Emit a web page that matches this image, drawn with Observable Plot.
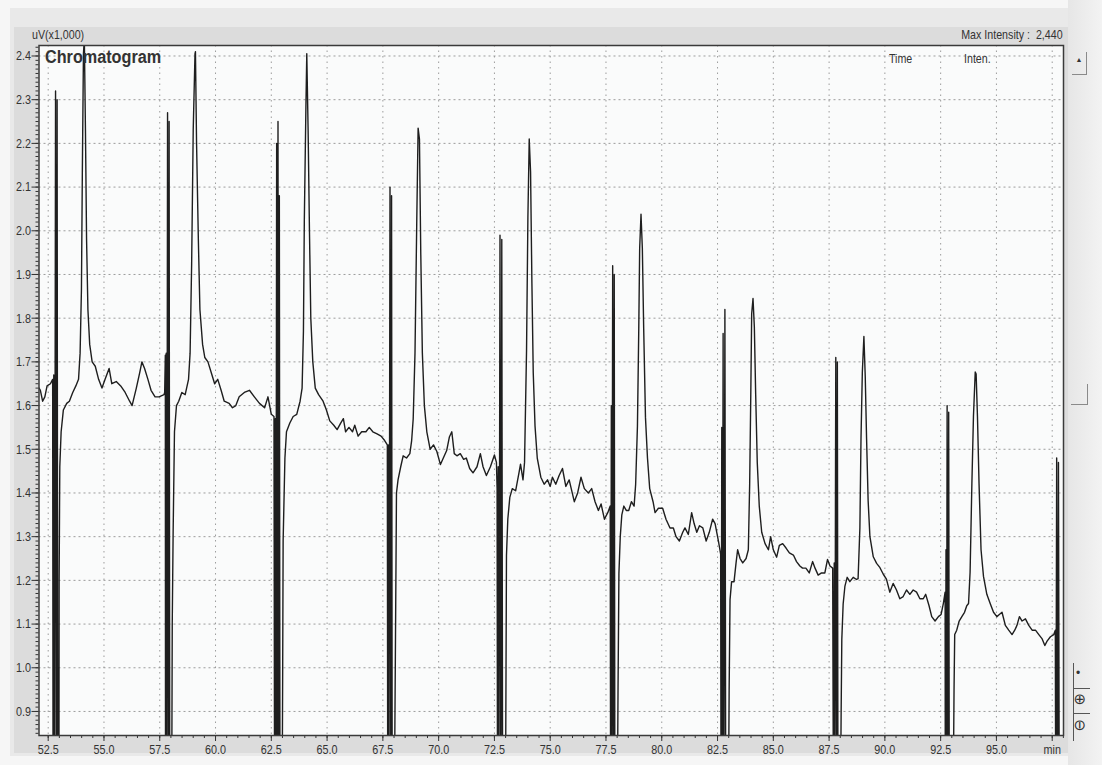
<!DOCTYPE html>
<html><head><meta charset="utf-8">
<script src="https://cdn.jsdelivr.net/npm/d3@7"></script>
<script src="https://cdn.jsdelivr.net/npm/@observablehq/plot@0.6"></script>
<style>
body{margin:0;background:#f6f6f6;font-family:"Liberation Sans",Arial,sans-serif;}
#wrap{position:relative;width:1102px;height:765px;overflow:hidden;}
.abs{position:absolute;}
.lbl{position:absolute;color:#333;font-size:12px;white-space:nowrap;line-height:1;}
.cond{transform:scaleX(0.82);transform-origin:left top;}
.condr{transform:scaleX(0.82);transform-origin:right top;}
</style></head><body><div id="wrap">
<div class="abs" style="left:10px;top:8px;width:1060px;height:748px;background:#e9e9e9"></div>
<div class="abs" style="left:14px;top:27px;width:1054px;height:726px;background:#dcdcdc"></div>
<div class="abs" style="left:1068px;top:0;width:34px;height:765px;background:linear-gradient(90deg,#e6e6e6,#f3f3f3)"></div>
<div class="abs" style="left:1072px;top:52px;width:14px;height:22px;border-right:1px solid #8a8a8a;border-bottom:1px solid #8a8a8a;font-size:7px;color:#333;text-align:center;line-height:16px">&#9650;</div>
<div class="abs" style="left:1071px;top:384px;width:16px;height:20px;border-right:1px solid #8a8a8a;border-bottom:1px solid #8a8a8a"></div>
<div class="abs" style="left:1073px;top:663px;width:17px;height:78px;border-left:1px solid #555;"></div>
<div class="lbl" style="left:1076px;top:667px;font-size:12px">&#8226;</div>
<div class="abs" style="left:1073px;top:688px;width:17px;height:1px;background:#555"></div>
<div class="lbl" style="left:1074px;top:692px;font-size:15px;transform:rotate(90deg)">&#8853;</div>
<div class="abs" style="left:1073px;top:713px;width:17px;height:1px;background:#555"></div>
<div class="lbl" style="left:1074px;top:718px;font-size:15px;transform:rotate(90deg)">&#8854;</div>
<div id="chart" class="abs" style="left:0;top:0"></div>
<div class="lbl cond" style="left:32px;top:28px;font-size:13px">uV(x1,000)</div>
<div class="lbl condr" style="right:39px;top:28px;font-size:13px">Max Intensity :&nbsp; 2,440</div>
<div class="lbl" style="left:45px;top:48px;font-size:18px;font-weight:bold;transform:scaleX(0.9);transform-origin:left top">Chromatogram</div>
<div class="lbl cond" style="left:889px;top:52px;font-size:13px">Time</div>
<div class="lbl cond" style="left:964px;top:52px;font-size:13px">Inten.</div>
</div>
<script>
// Tick values and labels
const xTicks = [52.5,55,57.5,60,62.5,65,67.5,70,72.5,75,77.5,80,82.5,85,87.5,90,92.5,95,97.5];
const xTickLabels = ["52.5","55.0","57.5","60.0","62.5","65.0","67.5","70.0","72.5","75.0","77.5","80.0","82.5","85.0","87.5","90.0","92.5","95.0","min"];
const yTicks = [0.9,1.0,1.1,1.2,1.3,1.4,1.5,1.6,1.7,1.8,1.9,2.0,2.1,2.2,2.3,2.4];
const yTickLabels = ["0.9","1.0","1.1","1.2","1.3","1.4","1.5","1.6","1.7","1.8","1.9","2.0","2.1","2.2","2.3","2.4"];

// Trace: [time (min), intensity (uV x1,000)]; 0.6 = off-scale below the plot
const cycle1 = [[52.09,1.64],[52.15,1.635],[52.25,1.61],[52.35,1.62],[52.45,1.645],[52.6,1.65],[52.7,1.66],
 [52.72,0.6],[52.75,1.67],[52.78,0.6],[52.83,2.32],[52.87,0.6],[52.9,2.30],[52.93,0.6],[52.98,0.6],
 [52.99,1.2],[53.02,1.46],[53.08,1.54],[53.18,1.59],[53.33,1.605],[53.45,1.61],[53.6,1.63],[53.74,1.645],[53.86,1.66],
 [53.93,1.72],[53.99,1.865],[54.03,2.13],[54.08,2.405],[54.12,2.44],[54.17,2.23],[54.22,1.98],[54.28,1.82],[54.36,1.74],
 [54.47,1.70],[54.61,1.69],[54.76,1.66],[54.91,1.64],[55.05,1.66],[55.23,1.685],[55.35,1.65],[55.55,1.655],[55.75,1.645],
 [55.95,1.63],[56.15,1.61],[56.26,1.60],[56.45,1.64],[56.6,1.675],[56.7,1.70],[56.82,1.685],[56.97,1.66],[57.11,1.635],
 [57.29,1.62],[57.47,1.62],[57.69,1.625]];
const cycle2 = [[57.72,1.63],[57.75,1.715],[57.76,0.6],[57.79,1.72],[57.81,0.6],[57.85,2.27],[57.89,0.6],[57.92,2.25],[57.95,0.6],[58.03,0.6],
 [58.06,1.1],[58.1,1.31],[58.16,1.54],[58.25,1.60],[58.35,1.61],[58.49,1.63],[58.64,1.625],[58.79,1.66],[58.86,1.72],
 [58.93,1.925],[59.0,2.23],[59.08,2.405],[59.1,2.41],[59.15,2.2],[59.23,1.98],[59.3,1.82],[59.42,1.74],[59.52,1.71],
 [59.66,1.70],[59.81,1.675],[59.96,1.65],[60.1,1.66],[60.25,1.635],[60.39,1.61],[60.61,1.605],[60.76,1.595],[60.91,1.60],
 [61.06,1.62],[61.29,1.63],[61.52,1.635],[61.74,1.62],[61.97,1.605],[62.2,1.595],[62.35,1.62],[62.5,1.58],[62.62,1.575]];
const cycle3 = [[62.65,0.6],[62.68,1.57],[62.7,0.6],[62.74,2.20],[62.77,0.6],[62.8,2.25],[62.83,0.6],[62.86,2.08],[62.89,0.6],[62.98,0.6],
 [63.01,1.0],[63.03,1.29],[63.11,1.48],[63.18,1.54],[63.33,1.56],[63.48,1.575],[63.64,1.58],[63.79,1.61],[63.88,1.64],
 [63.94,1.77],[63.98,2.025],[64.05,2.28],[64.09,2.405],[64.15,2.23],[64.21,2.0],[64.27,1.80],[64.36,1.70],[64.47,1.64],
 [64.62,1.625],[64.82,1.61],[64.97,1.59],[65.12,1.565],[65.3,1.555],[65.45,1.545],[65.61,1.56],[65.73,1.57],[65.83,1.54],
 [65.98,1.55],[66.14,1.54],[66.24,1.555],[66.39,1.53],[66.55,1.54],[66.74,1.54],[66.89,1.55],[67.05,1.54],[67.24,1.535],
 [67.42,1.53],[67.58,1.52],[67.7,1.51]];
const cycle4 = [[67.72,0.6],[67.75,1.51],[67.77,0.6],[67.82,2.10],[67.86,0.6],[67.89,2.08],[67.92,0.6],[67.99,0.6],
 [68.03,0.8],[68.06,1.025],[68.11,1.40],[68.18,1.43],[68.3,1.46],[68.41,1.485],[68.56,1.48],[68.71,1.49],[68.79,1.52],
 [68.86,1.57],[68.94,1.72],[69.02,2.025],[69.08,2.235],[69.14,2.21],[69.2,1.945],[69.27,1.72],[69.36,1.60],[69.47,1.54],
 [69.62,1.50],[69.77,1.51],[69.92,1.495],[70.08,1.465],[70.21,1.48],[70.36,1.497],[70.48,1.528],[70.59,1.54],[70.7,1.49],
 [70.82,1.485],[70.97,1.49],[71.12,1.477],[71.24,1.48],[71.39,1.456],[71.54,1.446],[71.72,1.46],[71.87,1.49],[71.99,1.46],
 [72.14,1.44],[72.32,1.46],[72.5,1.487],[72.59,1.47]];
const cycle5 = [[72.62,1.41],[72.64,0.6],[72.67,1.46],[72.7,0.6],[72.75,1.99],[72.79,0.6],[72.83,1.98],[72.87,0.6],[72.99,0.6],
 [73.02,1.0],[73.04,1.257],[73.1,1.34],[73.19,1.39],[73.3,1.41],[73.45,1.405],[73.6,1.446],[73.67,1.466],[73.78,1.43],
 [73.85,1.47],[73.94,1.727],[74.0,2.03],[74.06,2.21],[74.12,2.135],[74.18,1.88],[74.24,1.675],[74.32,1.553],[74.42,1.48],
 [74.58,1.436],[74.73,1.42],[74.88,1.43],[75.0,1.415],[75.1,1.436],[75.25,1.42],[75.4,1.44],[75.55,1.456],[75.7,1.415],
 [75.85,1.43],[76.08,1.38],[76.23,1.40],[76.38,1.436],[76.53,1.41],[76.71,1.40],[76.86,1.41],[77.01,1.38],[77.16,1.36],
 [77.28,1.375],[77.43,1.34],[77.58,1.355],[77.69,1.37]];
const cycle6 = [[77.71,0.6],[77.74,1.60],[77.76,0.6],[77.8,1.92],[77.84,0.6],[77.87,1.90],[77.9,0.6],[78.0,0.6],
 [78.04,0.95],[78.08,1.216],[78.14,1.30],[78.21,1.35],[78.3,1.37],[78.41,1.36],[78.52,1.36],[78.64,1.38],[78.76,1.37],
 [78.83,1.42],[78.91,1.553],[78.97,1.777],[79.01,1.96],[79.07,2.038],[79.13,1.96],[79.19,1.777],[79.27,1.573],[79.36,1.48],
 [79.46,1.41],[79.61,1.38],[79.7,1.355],[79.85,1.365],[80.04,1.365],[80.19,1.34],[80.37,1.32],[80.52,1.32],[80.64,1.30],
 [80.79,1.29],[80.94,1.31],[81.04,1.32],[81.19,1.305],[81.34,1.355],[81.45,1.33],[81.57,1.31],[81.69,1.325],[81.84,1.32],
 [81.99,1.29],[82.13,1.31],[82.28,1.34],[82.39,1.33],[82.54,1.29],[82.64,1.26]];
const cycle7 = [[82.66,0.6],[82.69,1.55],[82.71,0.6],[82.75,1.765],[82.78,0.6],[82.83,1.82],[82.87,0.6],[82.98,0.6],
 [83.02,0.95],[83.06,1.156],[83.13,1.197],[83.24,1.197],[83.33,1.24],[83.4,1.27],[83.51,1.25],[83.63,1.24],[83.78,1.25],
 [83.88,1.27],[83.94,1.42],[83.99,1.625],[84.03,1.81],[84.09,1.845],[84.15,1.78],[84.21,1.625],[84.28,1.47],[84.37,1.37],
 [84.48,1.31],[84.63,1.284],[84.78,1.27],[84.88,1.30],[85.0,1.27],[85.15,1.253],[85.27,1.28],[85.42,1.284],[85.57,1.274],
 [85.72,1.263],[85.9,1.258],[86.04,1.243],[86.19,1.233],[86.31,1.228],[86.46,1.228],[86.61,1.217],[86.76,1.243],
 [86.87,1.228],[87.01,1.212],[87.16,1.217],[87.31,1.217],[87.43,1.248],[87.54,1.233],[87.66,1.228]];
const cycle8 = [[87.7,0.6],[87.73,1.24],[87.75,0.6],[87.8,1.71],[87.84,0.6],[87.87,1.70],[87.9,0.6],[88.0,0.6],
 [88.04,0.9],[88.07,1.065],[88.13,1.146],[88.21,1.187],[88.31,1.207],[88.43,1.197],[88.58,1.207],[88.73,1.202],[88.8,1.204],
 [88.88,1.32],[88.93,1.524],[88.99,1.677],[89.06,1.758],[89.12,1.667],[89.18,1.524],[89.25,1.382],[89.33,1.30],[89.48,1.254],
 [89.63,1.239],[89.78,1.229],[89.93,1.214],[90.07,1.203],[90.22,1.173],[90.37,1.193],[90.52,1.178],[90.67,1.158],
 [90.82,1.163],[90.97,1.178],[91.12,1.168],[91.27,1.178],[91.42,1.173],[91.57,1.158],[91.72,1.158],[91.83,1.168],
 [91.98,1.142],[92.1,1.117],[92.25,1.107],[92.4,1.117],[92.52,1.122],[92.62,1.147],[92.7,1.173]];
const cycle9 = [[92.71,0.6],[92.74,1.27],[92.76,0.6],[92.79,1.60],[92.83,0.6],[92.86,1.585],[92.89,0.6],[93.05,0.6],
 [93.1,0.95],[93.13,1.076],[93.22,1.086],[93.33,1.107],[93.45,1.117],[93.57,1.127],[93.67,1.142],[93.75,1.147],[93.82,1.219],
 [93.9,1.422],[93.97,1.575],[94.05,1.677],[94.09,1.672],[94.15,1.575],[94.22,1.422],[94.31,1.27],[94.42,1.209],[94.57,1.168],
 [94.72,1.147],[94.87,1.127],[95.02,1.117],[95.13,1.122],[95.25,1.127],[95.4,1.097],[95.55,1.086],[95.7,1.076],[95.82,1.086],
 [95.92,1.097],[96.03,1.117],[96.15,1.107],[96.3,1.112],[96.45,1.097],[96.6,1.086],[96.75,1.086],[96.9,1.076],[97.05,1.066],
 [97.17,1.051],[97.27,1.061],[97.42,1.071],[97.57,1.076],[97.64,1.086]];
const cycle10 = [[97.66,0.6],[97.7,1.48],[97.74,0.6],[97.78,1.47],[97.82,0.6],[98.0,0.6]];

const series = [cycle1,cycle2,cycle3,cycle4,cycle5,cycle6,cycle7,cycle8,cycle9,cycle10]
  .flat().map(([time, intensity]) => ({time, intensity}));

const xDomain = [52.088, 98.006];
const yDomain = [0.845, 2.424];
const xLabelMap = new Map(xTicks.map((d, i) => [d, xTickLabels[i]]));
const yLabelMap = new Map(yTicks.map((d, i) => [d, yTickLabels[i]]));
const minorX = d3.range(105, 197).map(i => i / 2).filter(d => d > xDomain[0] && d < xDomain[1]);
const minorY = d3.range(85, 243).map(i => i / 100).filter(d => d >= yDomain[0] && d <= yDomain[1]);

const chart = Plot.plot({
  width: 1102, height: 765,
  marginLeft: 38.5, marginRight: 39, marginTop: 45, marginBottom: 30,
  style: {background: "transparent", fontFamily: '"Liberation Sans",Arial,sans-serif', fontSize: "13.5px", color: "#333", overflow: "visible"},
  x: {domain: xDomain, label: null},
  y: {domain: yDomain, label: null},
  marks: [
    Plot.frame({fill: "#fafbfb", stroke: null}),
    Plot.gridY(yTicks, {stroke: "#8c8c8c", strokeOpacity: 0.85, strokeDasharray: "2,3"}),
    Plot.gridX(xTicks, {stroke: "#8c8c8c", strokeOpacity: 0.85, strokeDasharray: "1.5,4"}),
    Plot.axisY(minorY, {tickSize: 3, tickFormat: () => "", label: null, stroke: "#333"}),
    Plot.axisY(yTicks, {tickSize: 7, tickPadding: 1, tickFormat: d => yLabelMap.get(d), label: null, stroke: "#333"}),
    Plot.axisX(minorX, {tickSize: 3, tickFormat: () => "", label: null, stroke: "#333"}),
    Plot.axisX(xTicks, {tickSize: 6, tickPadding: 3, tickFormat: d => xLabelMap.get(d), label: null, stroke: "#333"}),
    Plot.line(series, {x: "time", y: "intensity", stroke: "#1e1e1e", strokeWidth: 1.4, clip: true}),
    Plot.frame({stroke: "#3a3a3a", strokeWidth: 1.5})
  ]
});
document.getElementById("chart").appendChild(chart);
// condense tick label glyphs (narrow instrument font look)
chart.querySelectorAll("text").forEach(t => {
  const s = t.textContent;
  if (!s) return;
  const w = t.getComputedTextLength();
  if (w > 0) {
    t.setAttribute("textLength", (w * 0.8).toFixed(1));
    t.setAttribute("lengthAdjust", "spacingAndGlyphs");
  }
});
</script>
</body></html>
